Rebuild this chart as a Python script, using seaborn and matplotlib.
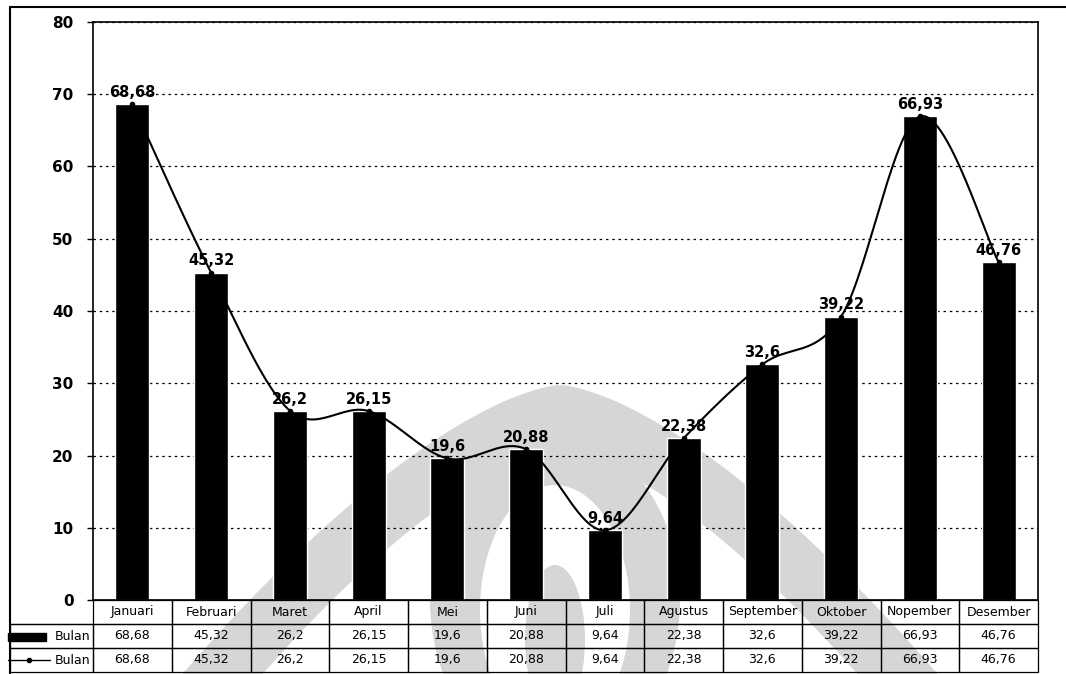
import numpy as np
import pandas as pd
import matplotlib
matplotlib.use("Agg")
import matplotlib.pyplot as plt
import seaborn as sns
from matplotlib.lines import Line2D
from matplotlib.patches import Rectangle, Polygon, Ellipse

# data
bulan = ['Januari', 'Februari', 'Maret', 'April', 'Mei', 'Juni', 'Juli',
         'Agustus', 'September', 'Oktober', 'Nopember', 'Desember']
nilai = [68.68, 45.32, 26.2, 26.15, 19.6, 20.88, 9.64, 22.38, 32.6, 39.22, 66.93, 46.76]
label_nilai = ['68,68', '45,32', '26,2', '26,15', '19,6', '20,88', '9,64',
               '22,38', '32,6', '39,22', '66,93', '46,76']
seri = 'Bulan'

sns.set_theme(style='white', rc={'text.color': 'black', 'ytick.color': 'black'})
plt.rcParams['font.family'] = ['DejaVu Sans']

W, H = 1066, 674
fig = plt.figure(figsize=(W / 100, H / 100), dpi=100)
x0, x1, y0, y1 = 93, 1038, 22, 600
ax = fig.add_axes([x0 / W, 1 - y1 / H, (x1 - x0) / W, (y1 - y0) / H])
ax.set_facecolor('none')


def fpt(x, y):
    return (x / W, 1 - y / H)


# faint watermark behind the chart (scanned page logo)
def ogive(xc, base, a, h, p):
    xs = np.linspace(-a, a, 120)
    ys = base - h * (1 - np.abs(xs / a) ** p)
    return [fpt(xc + u, v) for u, v in zip(xs, ys)]


grey = '#d6d6d6'
fig.add_artist(Polygon(ogive(560, 700, 400, 315, 1.5), closed=True,
                       transform=fig.transFigure, color=grey, zorder=-3, lw=0))
fig.add_artist(Polygon(ogive(560, 700, 320, 250, 1.5), closed=True,
                       transform=fig.transFigure, color='white', zorder=-2.9, lw=0))
fig.add_artist(Ellipse(fpt(555, 600), 250 / W, 330 / H, transform=fig.transFigure,
                       color=grey, zorder=-2.8, lw=0))
fig.add_artist(Ellipse(fpt(555, 610), 150 / W, 250 / H, transform=fig.transFigure,
                       color='white', zorder=-2.7, lw=0))
fig.add_artist(Ellipse(fpt(555, 640), 60 / W, 150 / H, transform=fig.transFigure,
                       color=grey, zorder=-2.6, lw=0))

df = pd.DataFrame({'bulan': bulan, 'nilai': nilai})
sns.barplot(data=df, x='bulan', y='nilai', color='black', width=0.43,
            saturation=1, ax=ax, zorder=2)

# smoothed line (bezier, excel style)
px = np.arange(len(nilai), dtype=float)
py = np.array(nilai, dtype=float)
cx, cy = [], []
t = np.linspace(0, 1, 30)
for i in range(len(px) - 1):
    p0 = np.array([px[max(i - 1, 0)], py[max(i - 1, 0)]])
    p1 = np.array([px[i], py[i]])
    p2 = np.array([px[i + 1], py[i + 1]])
    p3 = np.array([px[min(i + 2, len(px) - 1)], py[min(i + 2, len(px) - 1)]])
    c1 = p1 + (p2 - p0) / 6
    c2 = p2 - (p3 - p1) / 6
    b = (np.outer((1 - t) ** 3, p1) + np.outer(3 * (1 - t) ** 2 * t, c1)
         + np.outer(3 * (1 - t) * t ** 2, c2) + np.outer(t ** 3, p2))
    cx.extend(b[:, 0])
    cy.extend(b[:, 1])
ax.plot(cx, cy, color='black', lw=1.5, zorder=3)
ax.plot(px, py, 'o', color='black', ms=3, zorder=3)

for i, v in enumerate(nilai):
    ax.annotate(label_nilai[i], (i, v), xytext=(0, 3), textcoords='offset points',
                ha='center', va='bottom', fontsize=10.5, fontweight='bold',
                color='black', zorder=4)

ax.set_xlim(-0.5, 11.5)
ax.set_ylim(0, 80)
ax.set_yticks(range(0, 81, 10))
ax.set_yticklabels([str(v) for v in range(0, 81, 10)], fontsize=11,
                   fontweight='bold', color='black')
ax.tick_params(axis='y', direction='out', length=4, width=1, color='black', left=True, pad=10)
ax.set_xticks([])
ax.set_xlabel('')
ax.set_ylabel('')
ax.yaxis.grid(True, linestyle=(0, (2, 3)), color='black', lw=0.9)
ax.set_axisbelow(True)
for s in ax.spines.values():
    s.set_color('black')
    s.set_linewidth(1.2)

# data table
tx0, ty1 = 10, 672
col_w = [x0 - tx0] + [(x1 - x0) / 12] * 12
col_w = [c / (x1 - tx0) for c in col_w]
rows = [[''] + bulan, [seri] + label_nilai, [seri] + label_nilai]
tab = ax.table(cellText=rows, colWidths=col_w, cellLoc='center',
               bbox=[(tx0 - x0) / (x1 - x0), -(ty1 - y1) / (y1 - y0),
                     (x1 - tx0) / (x1 - x0), (ty1 - y1) / (y1 - y0)])
tab.auto_set_font_size(False)
for (r, c), cell in tab.get_celld().items():
    cell.set_linewidth(0.9)
    cell.set_edgecolor('black')
    cell.set_facecolor('none')
    cell.get_text().set_fontsize(9)
    cell.get_text().set_color('black')
    if c == 0:
        cell.get_text().set_ha('right')
        cell.PAD = 0.03
    if r == 0 and c == 0:
        cell.visible_edges = 'B'

# legend keys in the table
fig.add_artist(Rectangle(fpt(8, 641), 38 / W, 8 / H,
                         transform=fig.transFigure, color='black'))
fig.add_artist(Line2D([8 / W, 50 / W], [1 - 660 / H, 1 - 660 / H],
                      transform=fig.transFigure, color='black', lw=1))
fig.add_artist(Line2D([29 / W], [1 - 660 / H], transform=fig.transFigure,
                      color='black', marker='o', ms=3))

# outer frame
fig.add_artist(Line2D([10 / W, 10 / W], [0, 1 - 7 / H], transform=fig.transFigure, color='black', lw=1.5))
fig.add_artist(Line2D([10 / W, 1], [1 - 7 / H, 1 - 7 / H], transform=fig.transFigure, color='black', lw=1.5))

fig.savefig('out.png', dpi=100)
